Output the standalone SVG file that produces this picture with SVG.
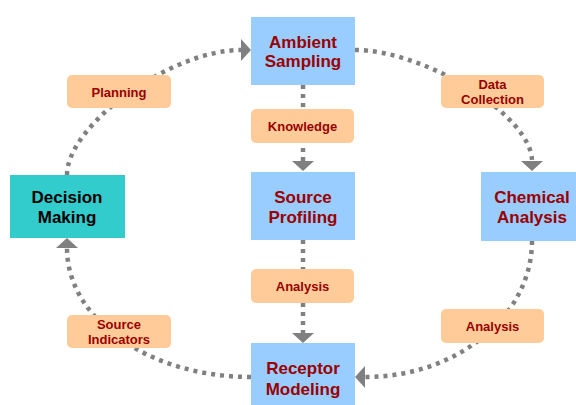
<svg xmlns="http://www.w3.org/2000/svg" width="576" height="405" viewBox="0 0 576 405">
<style>
.box{fill:#99CCFF}
.dm{fill:#33CCCC}
.lbl{fill:#FFCC99}
.t{font-family:"Liberation Sans",Arial,sans-serif;font-weight:bold;font-size:17px;fill:#990000;text-anchor:middle}
.tb{fill:#000000}
.l{font-family:"Liberation Sans",Arial,sans-serif;font-weight:bold;font-size:13px;fill:#990000;text-anchor:middle}
.c{fill:none;stroke:#808080;stroke-width:4.5;stroke-dasharray:4 5;marker-end:url(#ah)}
</style>
<defs>
<marker id="ah" viewBox="0 0 10 22" refX="0" refY="11" markerWidth="10" markerHeight="22" markerUnits="userSpaceOnUse" orient="auto">
<path d="M0,0 L10,11 L0,22 Z" fill="#808080"/>
</marker>
</defs>
<rect width="576" height="405" fill="#ffffff"/>
<g id="connectors">
<path class="c" d="M355,50 C425,50 532,116 532,161"/>
<path class="c" d="M532,241 C532,316 457,377 365,377"/>
<path class="c" d="M251,377 C150,377 67,320 67,248"/>
<path class="c" d="M67,175 C67,125 171,50 241,50"/>
<path class="c" d="M303,85 L303,161"/>
<path class="c" d="M303,240 L303,333"/>
</g>
<g id="ambient-sampling">
<rect class="box" x="251" y="17" width="104" height="68"/>
<text class="t" x="303" y="48">Ambient</text>
<text class="t" x="303" y="67">Sampling</text>
</g>
<g id="source-profiling">
<rect class="box" x="251" y="172" width="104" height="68"/>
<text class="t" x="303" y="203">Source</text>
<text class="t" x="303" y="223">Profiling</text>
</g>
<g id="chemical-analysis">
<rect class="box" x="481" y="172" width="110" height="69"/>
<text class="t" x="532" y="203">Chemical</text>
<text class="t" x="532" y="223">Analysis</text>
</g>
<g id="receptor-modeling">
<rect class="box" x="251" y="343" width="104" height="70"/>
<text class="t" x="303" y="374">Receptor</text>
<text class="t" x="303" y="395">Modeling</text>
</g>
<g id="decision-making">
<rect class="dm" x="10" y="175" width="115" height="63"/>
<text class="t tb" x="67" y="203">Decision</text>
<text class="t tb" x="67" y="223">Making</text>
</g>
<g id="label-knowledge">
<rect class="lbl" x="251" y="109" width="103" height="34" rx="5"/>
<text class="l" x="302.5" y="131">Knowledge</text>
</g>
<g id="label-planning">
<rect class="lbl" x="67" y="75" width="104" height="33" rx="5"/>
<text class="l" x="119" y="97">Planning</text>
</g>
<g id="label-data-collection">
<rect class="lbl" x="441" y="75" width="103" height="33" rx="5"/>
<text class="l" x="492.5" y="89">Data</text>
<text class="l" x="492.5" y="104">Collection</text>
</g>
<g id="label-analysis-center">
<rect class="lbl" x="251" y="269" width="103" height="34" rx="5"/>
<text class="l" x="302.5" y="291">Analysis</text>
</g>
<g id="label-analysis-right">
<rect class="lbl" x="441" y="309" width="103" height="34" rx="5"/>
<text class="l" x="492.5" y="331">Analysis</text>
</g>
<g id="label-source-indicators">
<rect class="lbl" x="67" y="315" width="104" height="33" rx="5"/>
<text class="l" x="119" y="329">Source</text>
<text class="l" x="119" y="344">Indicators</text>
</g>
</svg>
